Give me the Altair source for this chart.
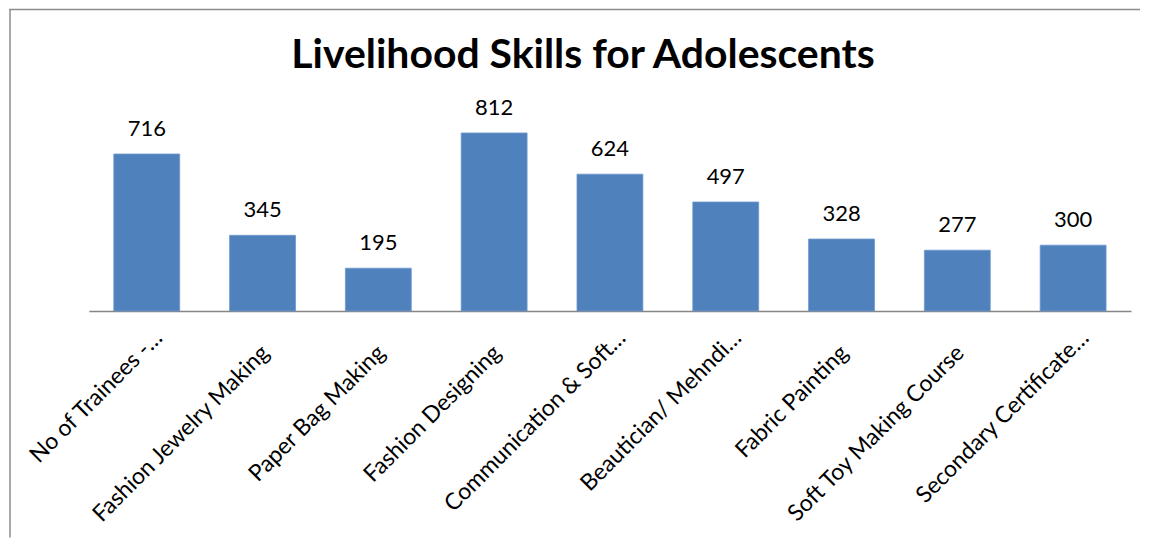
import altair as alt
import pandas as pd

categories = [
    "No of Trainees -…",
    "Fashion Jewelry Making",
    "Paper Bag Making",
    "Fashion Designing",
    "Communication & Soft…",
    "Beautician/ Mehndi…",
    "Fabric Painting",
    "Soft Toy Making Course",
    "Secondary Certificate…",
]
values = [716, 345, 195, 812, 624, 497, 328, 277, 300]
title_text = "Livelihood Skills for Adolescents"

df = pd.DataFrame({"cat": categories, "val": values})

FONT = "Lato"
W, H = 1133, 303

xscale = alt.Scale(domain=categories, range=[80, 1124], paddingInner=0.431, paddingOuter=0.2155)
yscale = alt.Scale(domain=[0, 1380], nice=False, zero=True)

truncated = "indexof(datum.label, '…') >= 0"

bars = alt.Chart(df).mark_bar(color="#4F81BD", stroke="#6f97cc", strokeWidth=0.8).encode(
    x=alt.X("cat:N", sort=categories, scale=xscale,
            axis=alt.Axis(title=None, labelAngle=-45, labelAlign="right",
                          labelBaseline="alphabetic",
                          labelPadding={"condition": {"test": truncated, "value": 28}, "value": 43},
                          labelOffset={"condition": {"test": truncated, "value": 17}, "value": 8},
                          labelFont=FONT, labelFontSize=23, labelColor="#000000",
                          labelLimit=500, ticks=False, domainColor="#868686",
                          domainWidth=1.5, grid=False, labelOverlap=False)),
    y=alt.Y("val:Q", scale=yscale, axis=None),
)

labels = alt.Chart(df).mark_text(font=FONT, fontSize=22, color="#000000", baseline="alphabetic", dy=-18).encode(
    x=alt.X("cat:N", sort=categories, scale=xscale),
    y=alt.Y("val:Q", scale=yscale),
    text=alt.Text("val:Q"),
)

one = alt.Data(values=[{"a": 0}])

title = alt.Chart(one).mark_text(font=FONT, fontSize=41, fontWeight="bold", color="#000000",
                                 baseline="alphabetic", align="center").encode(
    x=alt.value(575), y=alt.value(60), text=alt.value(title_text)
)

top_rule = alt.Chart(one).mark_rule(color="#8c8c8c", strokeWidth=1.5).encode(
    x=alt.value(0), x2=alt.value(W), y=alt.value(1)
)
left_rule = alt.Chart(one).mark_rule(color="#8c8c8c", strokeWidth=1.5).encode(
    x=alt.value(1), y=alt.value(1), y2=alt.value(530)
)

chart = alt.layer(bars, labels, title, top_rule, left_rule).properties(
    width=W, height=H, padding=0, background="white"
).configure_view(stroke=None)

chart.save("out.html", embed_options={"renderer": "svg", "actions": False})
